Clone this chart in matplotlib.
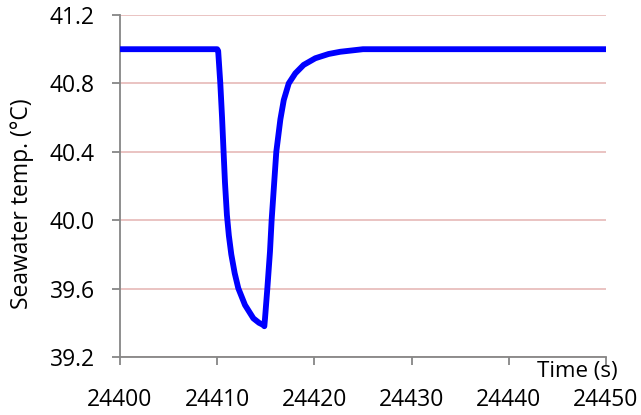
import numpy as np
import matplotlib.pyplot as plt

plt.rcParams['font.family'] = ['Open Sans', 'DejaVu Sans']

# seawater temperature during the cold-water dip
time_s = [24400, 24410.0, 24410.1, 24410.32, 24410.5, 24410.64, 24410.8,
          24411.0, 24411.2, 24411.45, 24411.8, 24412.17, 24412.86, 24413.72,
          24414.3, 24414.75, 24414.85, 24414.92, 24415.16, 24415.43, 24415.6,
          24415.84, 24416.08, 24416.5, 24416.85, 24417.36, 24418.04, 24418.89,
          24420.09, 24421.46, 24422.66, 24425.0, 24450]
temp_c = [41.0, 41.0, 40.99, 40.8, 40.6, 40.42, 40.22,
          40.03, 39.91, 39.80, 39.69, 39.602, 39.504, 39.426,
          39.40, 39.387, 39.38, 39.426, 39.602, 39.816, 40.0,
          40.2, 40.4, 40.59, 40.703, 40.8, 40.859, 40.908,
          40.947, 40.972, 40.985, 41.0, 41.0]

x_ticks = [24400, 24410, 24420, 24430, 24440, 24450]
y_ticks = [39.2, 39.6, 40.0, 40.4, 40.8, 41.2]

fig = plt.figure(figsize=(6.41, 4.15), dpi=100)
ax = fig.add_axes([120 / 641, 1 - 357 / 415, 486 / 641, 342 / 415])

ax.plot(time_s, temp_c, color='#0000ff', lw=4.2, solid_joinstyle='round',
        solid_capstyle='butt', zorder=3)

ax.set_xlim(24400, 24450)
ax.set_ylim(39.2, 41.2)
ax.set_xticks(x_ticks)
ax.set_yticks(y_ticks)
ax.set_yticklabels([f'{v:.1f}' for v in y_ticks])

ax.yaxis.grid(True, color='#e6b9b8', lw=1.2)
ax.set_axisbelow(True)

for side in ('top', 'right'):
    ax.spines[side].set_visible(False)
for side in ('left', 'bottom'):
    ax.spines[side].set_color('#868686')
    ax.spines[side].set_linewidth(1.3)

ax.tick_params(axis='both', direction='out', length=6, width=1.3,
               color='#868686', labelsize=16.5, labelcolor='black')
ax.tick_params(axis='x', pad=16)
ax.tick_params(axis='y', pad=12)

fig.text(22 / 641, 1 - 204 / 415, 'Seawater temp. (°C)', fontsize=16.5,
         rotation=90, ha='center', va='center')
ax.text(1.023, -0.012, 'Time (s)', transform=ax.transAxes, fontsize=16,
        ha='right', va='top')

fig.savefig('out.png', dpi=100)
